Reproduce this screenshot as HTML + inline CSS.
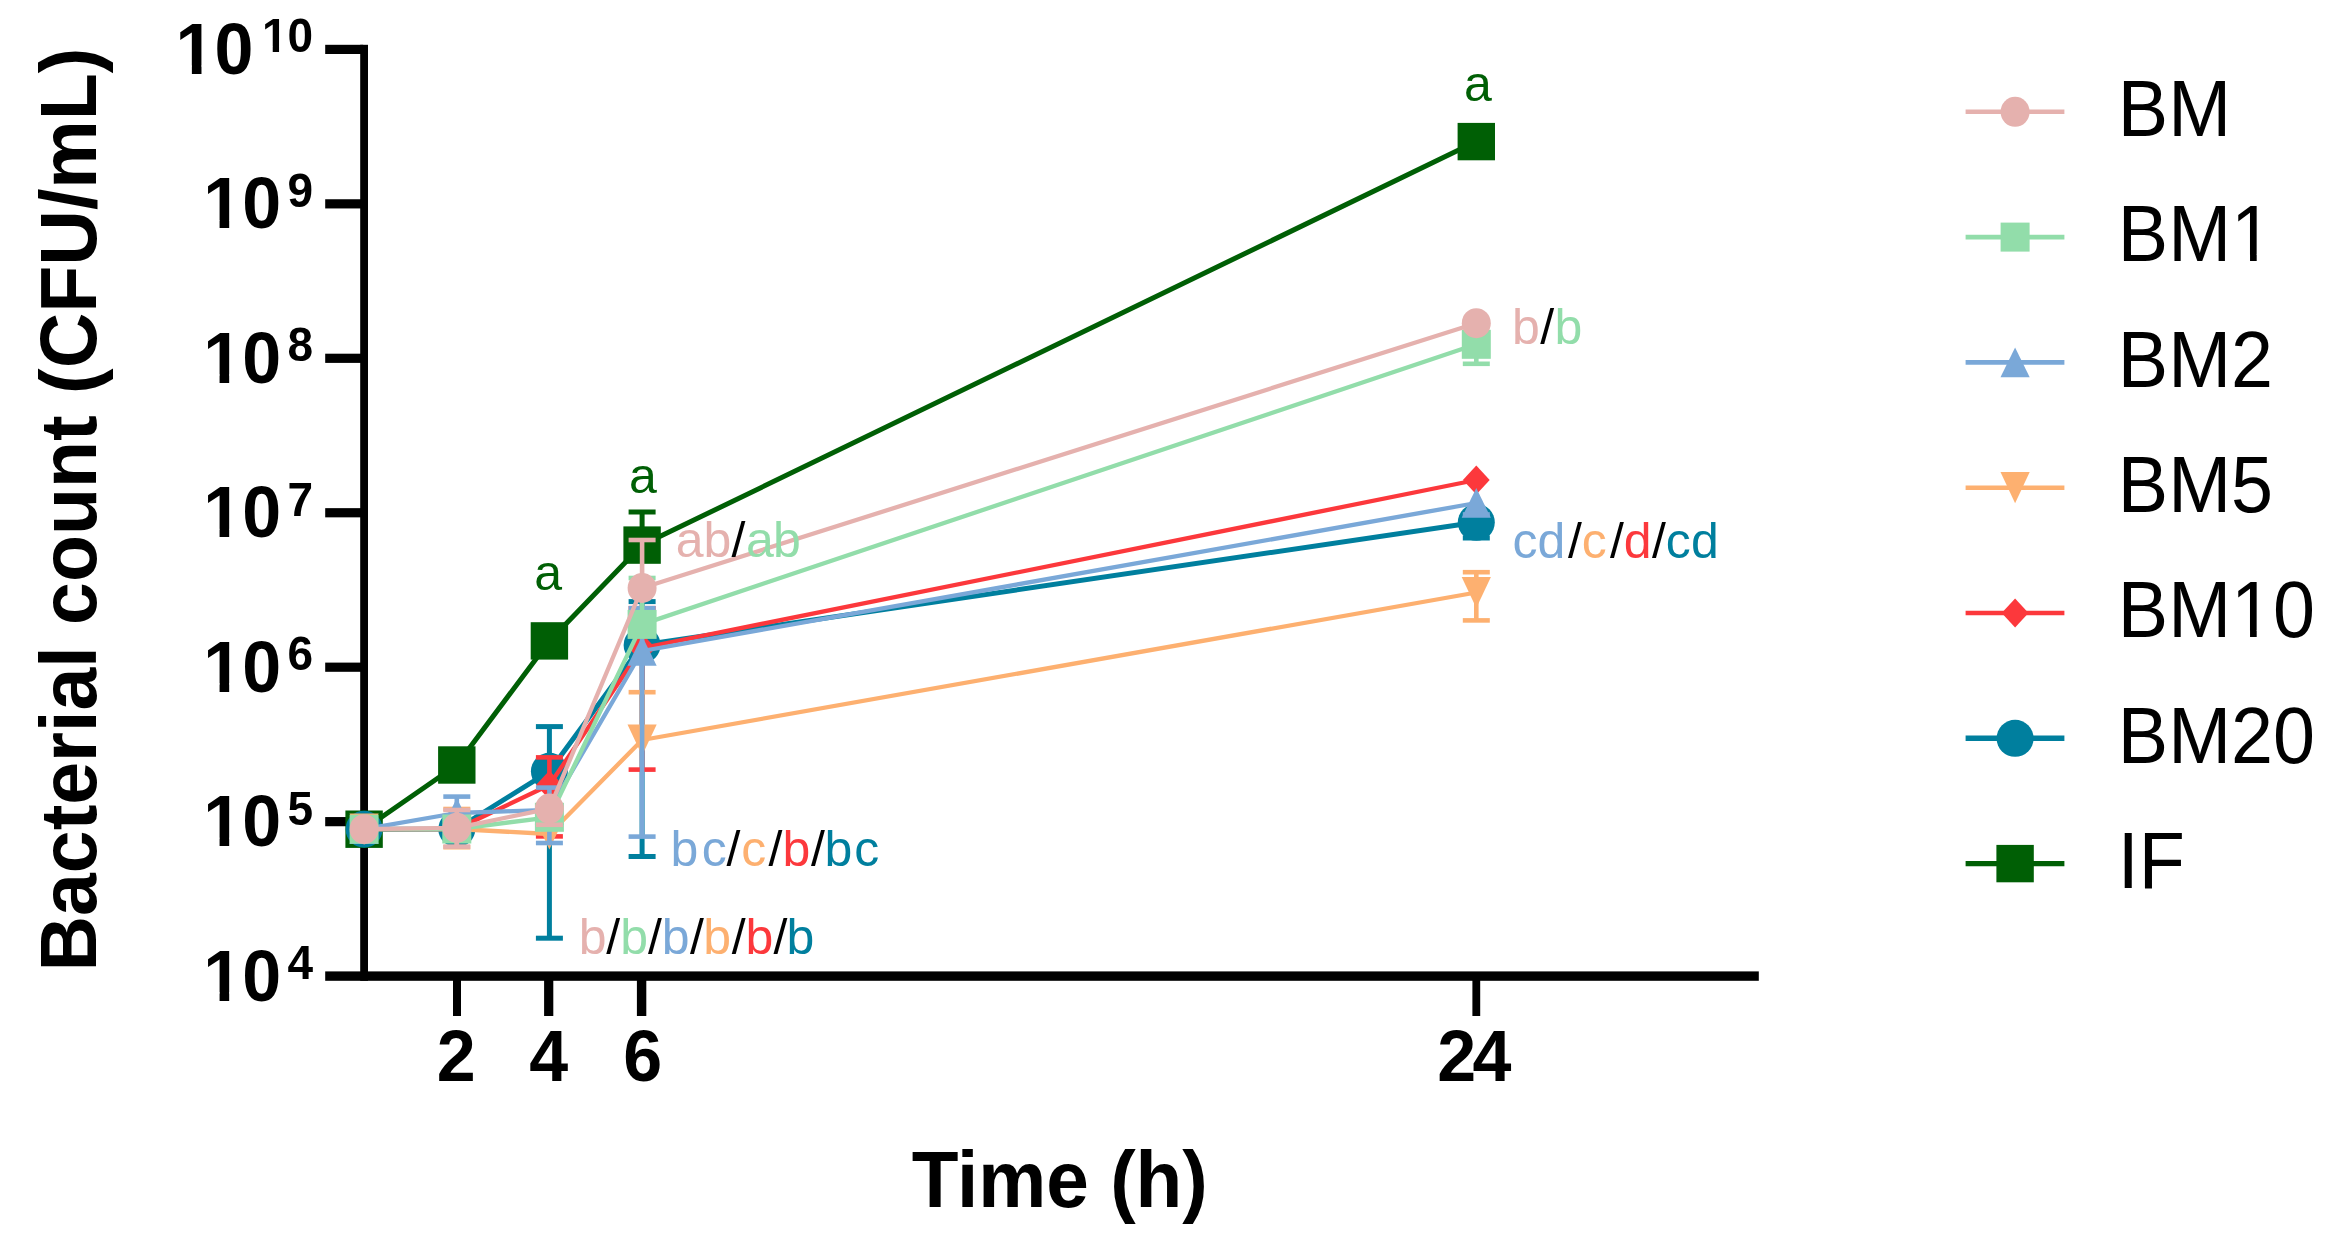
<!DOCTYPE html>
<html lang="en"><head><meta charset="utf-8"><title>Bacterial count over time</title>
<style>html,body{margin:0;padding:0;background:#fff}body{width:2348px;height:1250px;overflow:hidden}svg{display:block;filter:blur(0.5px)}text{font-family:"Liberation Sans",Arial,Helvetica,sans-serif}.b{font-weight:bold;fill:#000}.ann{font-size:50px}.leg{font-size:75.5px;fill:#000}</style></head><body>
<svg width="2348" height="1250" viewBox="0 0 2348 1250">
<rect width="2348" height="1250" fill="#fff"/>
<g id="axes" fill="#000">
<rect x="360.2" y="44.8" width="7.8" height="936" />
<rect x="325.2" y="971.4" width="1433.6" height="9.4" />
<rect x="325.2" y="44.80" width="38" height="9.2"/>
<rect x="325.2" y="199.25" width="38" height="9.2"/>
<rect x="325.2" y="353.70" width="38" height="9.2"/>
<rect x="325.2" y="508.15" width="38" height="9.2"/>
<rect x="325.2" y="662.60" width="38" height="9.2"/>
<rect x="325.2" y="817.05" width="38" height="9.2"/>
<rect x="453.0" y="976" width="8.0" height="40"/>
<rect x="544.1" y="976" width="9.2" height="40"/>
<rect x="636.9" y="976" width="9.4" height="40"/>
<rect x="1472.4" y="976" width="7.8" height="40"/>
</g>
<g id="s-IF">
<line x1="642.1" y1="512.0" x2="642.1" y2="545.1" stroke="#005F05" stroke-width="5.0"/>
<line x1="628.6" y1="512.0" x2="655.6" y2="512.0" stroke="#005F05" stroke-width="5.0"/>
<polyline points="364.1,829.2 456.8,765.0 549.4,640.9 642.1,545.1 1476.3,141.6" fill="none" stroke="#005F05" stroke-width="5.0" stroke-linejoin="round"/>
<rect x="345.4" y="810.5" width="37.4" height="37.4" fill="#005F05"/>
<rect x="438.1" y="746.3" width="37.4" height="37.4" fill="#005F05"/>
<rect x="530.7" y="622.2" width="37.4" height="37.4" fill="#005F05"/>
<rect x="623.4" y="526.4" width="37.4" height="37.4" fill="#005F05"/>
<rect x="1457.6" y="122.9" width="37.4" height="37.4" fill="#005F05"/>
</g>
<g id="s-BM20">
<line x1="549.4" y1="726.6" x2="549.4" y2="938.2" stroke="#007F9E" stroke-width="5.0"/>
<line x1="535.9" y1="726.6" x2="562.9" y2="726.6" stroke="#007F9E" stroke-width="5.0"/>
<line x1="535.9" y1="938.2" x2="562.9" y2="938.2" stroke="#007F9E" stroke-width="5.0"/>
<line x1="642.1" y1="601.6" x2="642.1" y2="856.5" stroke="#007F9E" stroke-width="5.0"/>
<line x1="628.6" y1="601.6" x2="655.6" y2="601.6" stroke="#007F9E" stroke-width="5.0"/>
<line x1="628.6" y1="856.5" x2="655.6" y2="856.5" stroke="#007F9E" stroke-width="5.0"/>
<line x1="1476.3" y1="522.3" x2="1476.3" y2="538.0" stroke="#007F9E" stroke-width="5.0"/>
<line x1="1462.8" y1="538.0" x2="1489.8" y2="538.0" stroke="#007F9E" stroke-width="5.0"/>
<polyline points="364.1,829.2 456.8,829.0 549.4,771.3 642.1,645.0 1476.3,522.3" fill="none" stroke="#007F9E" stroke-width="5.0" stroke-linejoin="round"/>
<circle cx="364.1" cy="829.2" r="18.5" fill="#007F9E"/>
<circle cx="456.8" cy="829.0" r="18.5" fill="#007F9E"/>
<circle cx="549.4" cy="771.3" r="18.5" fill="#007F9E"/>
<circle cx="642.1" cy="645.0" r="18.5" fill="#007F9E"/>
<circle cx="1476.3" cy="522.3" r="18.5" fill="#007F9E"/>
</g>
<g id="s-BM10">
<line x1="549.4" y1="757.4" x2="549.4" y2="836.4" stroke="#FC383C" stroke-width="4.6"/>
<line x1="535.9" y1="757.4" x2="562.9" y2="757.4" stroke="#FC383C" stroke-width="4.6"/>
<line x1="535.9" y1="836.4" x2="562.9" y2="836.4" stroke="#FC383C" stroke-width="4.6"/>
<line x1="642.1" y1="608.2" x2="642.1" y2="769.6" stroke="#FC383C" stroke-width="4.6"/>
<line x1="628.6" y1="608.2" x2="655.6" y2="608.2" stroke="#FC383C" stroke-width="4.6"/>
<line x1="628.6" y1="769.6" x2="655.6" y2="769.6" stroke="#FC383C" stroke-width="4.6"/>
<polyline points="364.1,829.2 456.8,829.0 549.4,785.0 642.1,648.0 1476.3,480.0" fill="none" stroke="#FC383C" stroke-width="4.3" stroke-linejoin="round"/>
<polygon points="364.1,814.7 377.5,829.2 364.1,843.7 350.7,829.2" fill="#FC383C"/>
<polygon points="456.8,814.5 470.2,829.0 456.8,843.5 443.4,829.0" fill="#FC383C"/>
<polygon points="549.4,770.5 562.8,785.0 549.4,799.5 536.0,785.0" fill="#FC383C"/>
<polygon points="642.1,633.5 655.5,648.0 642.1,662.5 628.7,648.0" fill="#FC383C"/>
<polygon points="1476.3,465.5 1489.7,480.0 1476.3,494.5 1462.9,480.0" fill="#FC383C"/>
</g>
<g id="s-BM5">
<line x1="456.8" y1="809.0" x2="456.8" y2="847.2" stroke="#FDB070" stroke-width="4.6"/>
<line x1="443.3" y1="809.0" x2="470.3" y2="809.0" stroke="#FDB070" stroke-width="4.6"/>
<line x1="443.3" y1="847.2" x2="470.3" y2="847.2" stroke="#FDB070" stroke-width="4.6"/>
<line x1="642.1" y1="692.2" x2="642.1" y2="740.0" stroke="#FDB070" stroke-width="4.6"/>
<line x1="628.6" y1="692.2" x2="655.6" y2="692.2" stroke="#FDB070" stroke-width="4.6"/>
<line x1="1476.3" y1="572.2" x2="1476.3" y2="620.4" stroke="#FDB070" stroke-width="4.6"/>
<line x1="1462.8" y1="572.2" x2="1489.8" y2="572.2" stroke="#FDB070" stroke-width="4.6"/>
<line x1="1462.8" y1="620.4" x2="1489.8" y2="620.4" stroke="#FDB070" stroke-width="4.6"/>
<polyline points="364.1,829.2 456.8,829.0 549.4,834.0 642.1,740.0 1476.3,592.5" fill="none" stroke="#FDB070" stroke-width="4.3" stroke-linejoin="round"/>
<polygon points="349.5,813.6 378.7,813.6 364.1,844.7" fill="#FDB070"/>
<polygon points="442.2,813.4 471.4,813.4 456.8,844.5" fill="#FDB070"/>
<polygon points="534.8,818.4 564.0,818.4 549.4,849.5" fill="#FDB070"/>
<polygon points="627.5,724.4 656.7,724.4 642.1,755.5" fill="#FDB070"/>
<polygon points="1461.7,576.9 1490.9,576.9 1476.3,608.0" fill="#FDB070"/>
</g>
<g id="s-BM2">
<line x1="456.8" y1="796.6" x2="456.8" y2="813.0" stroke="#7AA8D8" stroke-width="4.6"/>
<line x1="443.3" y1="796.6" x2="470.3" y2="796.6" stroke="#7AA8D8" stroke-width="4.6"/>
<line x1="549.4" y1="787.6" x2="549.4" y2="843.0" stroke="#7AA8D8" stroke-width="4.6"/>
<line x1="535.9" y1="787.6" x2="562.9" y2="787.6" stroke="#7AA8D8" stroke-width="4.6"/>
<line x1="535.9" y1="843.0" x2="562.9" y2="843.0" stroke="#7AA8D8" stroke-width="4.6"/>
<line x1="642.1" y1="608.2" x2="642.1" y2="836.6" stroke="#7AA8D8" stroke-width="4.6"/>
<line x1="628.6" y1="608.2" x2="655.6" y2="608.2" stroke="#7AA8D8" stroke-width="4.6"/>
<line x1="628.6" y1="836.6" x2="655.6" y2="836.6" stroke="#7AA8D8" stroke-width="4.6"/>
<line x1="1476.3" y1="503.0" x2="1476.3" y2="514.5" stroke="#7AA8D8" stroke-width="4.6"/>
<line x1="1462.8" y1="514.5" x2="1489.8" y2="514.5" stroke="#7AA8D8" stroke-width="4.6"/>
<polyline points="364.1,829.2 456.8,813.0 549.4,810.0 642.1,651.0 1476.3,503.0" fill="none" stroke="#7AA8D8" stroke-width="4.3" stroke-linejoin="round"/>
<polygon points="364.1,814.2 378.7,844.0 349.5,844.0" fill="#7AA8D8"/>
<polygon points="456.8,798.0 471.4,827.8 442.2,827.8" fill="#7AA8D8"/>
<polygon points="549.4,795.0 564.0,824.8 534.8,824.8" fill="#7AA8D8"/>
<polygon points="642.1,636.0 656.7,665.8 627.5,665.8" fill="#7AA8D8"/>
<polygon points="1476.3,488.0 1490.9,517.8 1461.7,517.8" fill="#7AA8D8"/>
</g>
<g id="s-BM1">
<line x1="642.1" y1="578.0" x2="642.1" y2="624.4" stroke="#92DDAA" stroke-width="4.6"/>
<line x1="628.6" y1="578.0" x2="655.6" y2="578.0" stroke="#92DDAA" stroke-width="4.6"/>
<line x1="1476.3" y1="344.3" x2="1476.3" y2="363.8" stroke="#92DDAA" stroke-width="4.6"/>
<line x1="1462.8" y1="363.8" x2="1489.8" y2="363.8" stroke="#92DDAA" stroke-width="4.6"/>
<polyline points="364.1,829.2 456.8,829.0 549.4,817.3 642.1,624.4 1476.3,344.3" fill="none" stroke="#92DDAA" stroke-width="4.3" stroke-linejoin="round"/>
<rect x="349.6" y="814.7" width="29" height="29" fill="#92DDAA"/>
<rect x="442.3" y="814.5" width="29" height="29" fill="#92DDAA"/>
<rect x="534.9" y="802.8" width="29" height="29" fill="#92DDAA"/>
<rect x="627.6" y="609.9" width="29" height="29" fill="#92DDAA"/>
<rect x="1461.8" y="329.8" width="29" height="29" fill="#92DDAA"/>
</g>
<g id="s-BM">
<line x1="456.8" y1="810.0" x2="456.8" y2="846.6" stroke="#E5B1AE" stroke-width="4.6"/>
<line x1="443.3" y1="810.0" x2="470.3" y2="810.0" stroke="#E5B1AE" stroke-width="4.6"/>
<line x1="443.3" y1="846.6" x2="470.3" y2="846.6" stroke="#E5B1AE" stroke-width="4.6"/>
<line x1="549.4" y1="808.6" x2="549.4" y2="824.8" stroke="#E5B1AE" stroke-width="4.6"/>
<line x1="535.9" y1="824.8" x2="562.9" y2="824.8" stroke="#E5B1AE" stroke-width="4.6"/>
<line x1="642.1" y1="540.0" x2="642.1" y2="588.0" stroke="#E5B1AE" stroke-width="4.6"/>
<line x1="628.6" y1="540.0" x2="655.6" y2="540.0" stroke="#E5B1AE" stroke-width="4.6"/>
<polyline points="364.1,829.2 456.8,827.8 549.4,808.6 642.1,588.0 1476.3,323.2" fill="none" stroke="#E5B1AE" stroke-width="4.3" stroke-linejoin="round"/>
<ellipse cx="364.1" cy="829.2" rx="14.5" ry="15.0" fill="#E5B1AE"/>
<ellipse cx="456.8" cy="827.8" rx="14.5" ry="15.0" fill="#E5B1AE"/>
<ellipse cx="549.4" cy="808.6" rx="14.5" ry="15.0" fill="#E5B1AE"/>
<ellipse cx="642.1" cy="588.0" rx="14.5" ry="15.0" fill="#E5B1AE"/>
<ellipse cx="1476.3" cy="323.2" rx="14.5" ry="15.0" fill="#E5B1AE"/>
</g>
<g id="ylabels">
<text class="b" transform="translate(253.4 73.8) scale(1 1.045)" font-size="70" text-anchor="end">10</text>
<rect x="178.95" y="65.53" width="12.93" height="9.07" fill="#fff"/>
<rect x="201.48" y="65.53" width="12.04" height="9.07" fill="#fff"/>
<text class="b" transform="translate(262.0 52.4) scale(1 1.045)" font-size="46" text-anchor="start">10</text>
<rect x="263.90" y="46.69" width="8.84" height="6.51" fill="#fff"/>
<rect x="279.05" y="46.69" width="8.25" height="6.51" fill="#fff"/>
<text class="b" transform="translate(281.1 228.2) scale(1 1.045)" font-size="70" text-anchor="end">10</text>
<rect x="206.65" y="219.98" width="12.93" height="9.07" fill="#fff"/>
<rect x="229.18" y="219.98" width="12.04" height="9.07" fill="#fff"/>
<text class="b" transform="translate(287.5 206.8) scale(1 1.045)" font-size="46" text-anchor="start">9</text>
<text class="b" transform="translate(281.1 382.7) scale(1 1.045)" font-size="70" text-anchor="end">10</text>
<rect x="206.65" y="374.43" width="12.93" height="9.07" fill="#fff"/>
<rect x="229.18" y="374.43" width="12.04" height="9.07" fill="#fff"/>
<text class="b" transform="translate(287.5 361.3) scale(1 1.045)" font-size="46" text-anchor="start">8</text>
<text class="b" transform="translate(281.1 537.1) scale(1 1.045)" font-size="70" text-anchor="end">10</text>
<rect x="206.65" y="528.88" width="12.93" height="9.07" fill="#fff"/>
<rect x="229.18" y="528.88" width="12.04" height="9.07" fill="#fff"/>
<text class="b" transform="translate(287.5 515.8) scale(1 1.045)" font-size="46" text-anchor="start">7</text>
<text class="b" transform="translate(281.1 691.6) scale(1 1.045)" font-size="70" text-anchor="end">10</text>
<rect x="206.65" y="683.33" width="12.93" height="9.07" fill="#fff"/>
<rect x="229.18" y="683.33" width="12.04" height="9.07" fill="#fff"/>
<text class="b" transform="translate(287.5 670.2) scale(1 1.045)" font-size="46" text-anchor="start">6</text>
<text class="b" transform="translate(281.1 846.0) scale(1 1.045)" font-size="70" text-anchor="end">10</text>
<rect x="206.65" y="837.78" width="12.93" height="9.07" fill="#fff"/>
<rect x="229.18" y="837.78" width="12.04" height="9.07" fill="#fff"/>
<text class="b" transform="translate(287.5 824.6) scale(1 1.045)" font-size="46" text-anchor="start">5</text>
<text class="b" transform="translate(281.1 1000.5) scale(1 1.045)" font-size="70" text-anchor="end">10</text>
<rect x="206.65" y="992.23" width="12.93" height="9.07" fill="#fff"/>
<rect x="229.18" y="992.23" width="12.04" height="9.07" fill="#fff"/>
<text class="b" transform="translate(287.5 979.1) scale(1 1.045)" font-size="46" text-anchor="start">4</text>
</g>
<g id="xlabels">
<text class="b" transform="translate(456.3 1081.3) scale(1 1.045)" font-size="70" text-anchor="middle">2</text>
<text class="b" transform="translate(548.7 1081.3) scale(1 1.045)" font-size="70" text-anchor="middle">4</text>
<text class="b" transform="translate(642.6 1081.3) scale(1 1.045)" font-size="70" text-anchor="middle">6</text>
<text class="b" transform="translate(1472.4 1081.3) scale(1 1.045)" font-size="70" text-anchor="middle" letter-spacing="-3.8">24</text>
</g>
<text class="b" transform="translate(1059.8 1206.9) scale(1 1.03)" font-size="76.5" text-anchor="middle">Time (h)</text>
<text class="b" transform="translate(95.8 509.6) rotate(-90) scale(1 1.03)" font-size="77" text-anchor="middle">Bacterial count (CFU/mL)</text>
<g id="annotations">
<text class="ann" y="589.9"><tspan x="534.3" fill="#005F05">a</tspan></text>
<text class="ann" y="492.8"><tspan x="628.9" fill="#005F05">a</tspan></text>
<text class="ann" y="101.3"><tspan x="1464.1" fill="#005F05">a</tspan></text>
<text class="ann" y="557.2"><tspan x="675.7" fill="#E5B1AE">a</tspan><tspan x="703.6" fill="#E5B1AE">b</tspan><tspan x="731.4" fill="#000">/</tspan><tspan x="745.9" fill="#92DDAA">a</tspan><tspan x="773.0" fill="#92DDAA">b</tspan></text>
<text class="ann" y="343.8"><tspan x="1511.9" fill="#E5B1AE">b</tspan><tspan x="1540.3" fill="#000">/</tspan><tspan x="1554.5" fill="#92DDAA">b</tspan></text>
<text class="ann" y="557.6"><tspan x="1512.6" fill="#7AA8D8">c</tspan><tspan x="1537.6" fill="#7AA8D8">d</tspan><tspan x="1568.0" fill="#000">/</tspan><tspan x="1581.8" fill="#FDB070">c</tspan><tspan x="1610.0" fill="#000">/</tspan><tspan x="1623.8" fill="#FC383C">d</tspan><tspan x="1652.0" fill="#000">/</tspan><tspan x="1665.8" fill="#007F9E">c</tspan><tspan x="1691.0" fill="#007F9E">d</tspan></text>
<text class="ann" y="865.8"><tspan x="670.6" fill="#7AA8D8">b</tspan><tspan x="701.8" fill="#7AA8D8">c</tspan><tspan x="726.4" fill="#000">/</tspan><tspan x="741.2" fill="#FDB070">c</tspan><tspan x="768.4" fill="#000">/</tspan><tspan x="782.5" fill="#FC383C">b</tspan><tspan x="811.1" fill="#000">/</tspan><tspan x="824.4" fill="#007F9E">b</tspan><tspan x="854.2" fill="#007F9E">c</tspan></text>
<text class="ann" y="953.5"><tspan x="578.7" fill="#E5B1AE">b</tspan><tspan x="606.3" fill="#000">/</tspan><tspan x="620.2" fill="#92DDAA">b</tspan><tspan x="648.1" fill="#000">/</tspan><tspan x="661.8" fill="#7AA8D8">b</tspan><tspan x="690.1" fill="#000">/</tspan><tspan x="703.2" fill="#FDB070">b</tspan><tspan x="731.7" fill="#000">/</tspan><tspan x="745.6" fill="#FC383C">b</tspan><tspan x="773.5" fill="#000">/</tspan><tspan x="786.6" fill="#007F9E">b</tspan></text>
</g>
<g id="legend">
<line x1="1965.6" y1="111.8" x2="2064.4" y2="111.8" stroke="#E5B1AE" stroke-width="4.6"/>
<ellipse cx="2015.1" cy="111.8" rx="14.5" ry="15.0" fill="#E5B1AE"/>
<text class="leg" transform="translate(2117.8 136.0) scale(1 1.06)" font-size="75.5" text-anchor="start">BM</text>
<line x1="1965.6" y1="237.1" x2="2064.4" y2="237.1" stroke="#92DDAA" stroke-width="4.6"/>
<rect x="2000.6" y="222.6" width="29" height="29" fill="#92DDAA"/>
<text class="leg" transform="translate(2117.8 261.3) scale(1 1.06)" font-size="75.5" text-anchor="start">BM1</text>
<rect x="2235.80" y="254.52" width="14.24" height="7.58" fill="#fff"/>
<rect x="2256.70" y="254.52" width="13.65" height="7.58" fill="#fff"/>
<line x1="1965.6" y1="362.4" x2="2064.4" y2="362.4" stroke="#7AA8D8" stroke-width="4.6"/>
<polygon points="2015.1,347.4 2029.7,377.2 2000.5,377.2" fill="#7AA8D8"/>
<text class="leg" transform="translate(2117.8 386.6) scale(1 1.06)" font-size="75.5" text-anchor="start">BM2</text>
<line x1="1965.6" y1="487.7" x2="2064.4" y2="487.7" stroke="#FDB070" stroke-width="4.6"/>
<polygon points="2000.5,472.1 2029.7,472.1 2015.1,503.2" fill="#FDB070"/>
<text class="leg" transform="translate(2117.8 511.9) scale(1 1.06)" font-size="75.5" text-anchor="start">BM5</text>
<line x1="1965.6" y1="613.0" x2="2064.4" y2="613.0" stroke="#FC383C" stroke-width="4.6"/>
<polygon points="2015.1,598.5 2028.5,613.0 2015.1,627.5 2001.7,613.0" fill="#FC383C"/>
<text class="leg" transform="translate(2117.8 637.2) scale(1 1.06)" font-size="75.5" text-anchor="start">BM10</text>
<rect x="2235.80" y="630.42" width="14.24" height="7.58" fill="#fff"/>
<rect x="2256.70" y="630.42" width="13.65" height="7.58" fill="#fff"/>
<line x1="1965.6" y1="738.3" x2="2064.4" y2="738.3" stroke="#007F9E" stroke-width="5.4"/>
<circle cx="2015.1" cy="738.3" r="18.5" fill="#007F9E"/>
<text class="leg" transform="translate(2117.8 762.5) scale(1 1.06)" font-size="75.5" text-anchor="start">BM20</text>
<line x1="1965.6" y1="863.6" x2="2064.4" y2="863.6" stroke="#005F05" stroke-width="5.4"/>
<rect x="1996.4" y="844.9" width="37.4" height="37.4" fill="#005F05"/>
<text class="leg" transform="translate(2117.8 887.8) scale(1 1.06)" font-size="75.5" text-anchor="start">IF</text>
</g>
</svg></body></html>
